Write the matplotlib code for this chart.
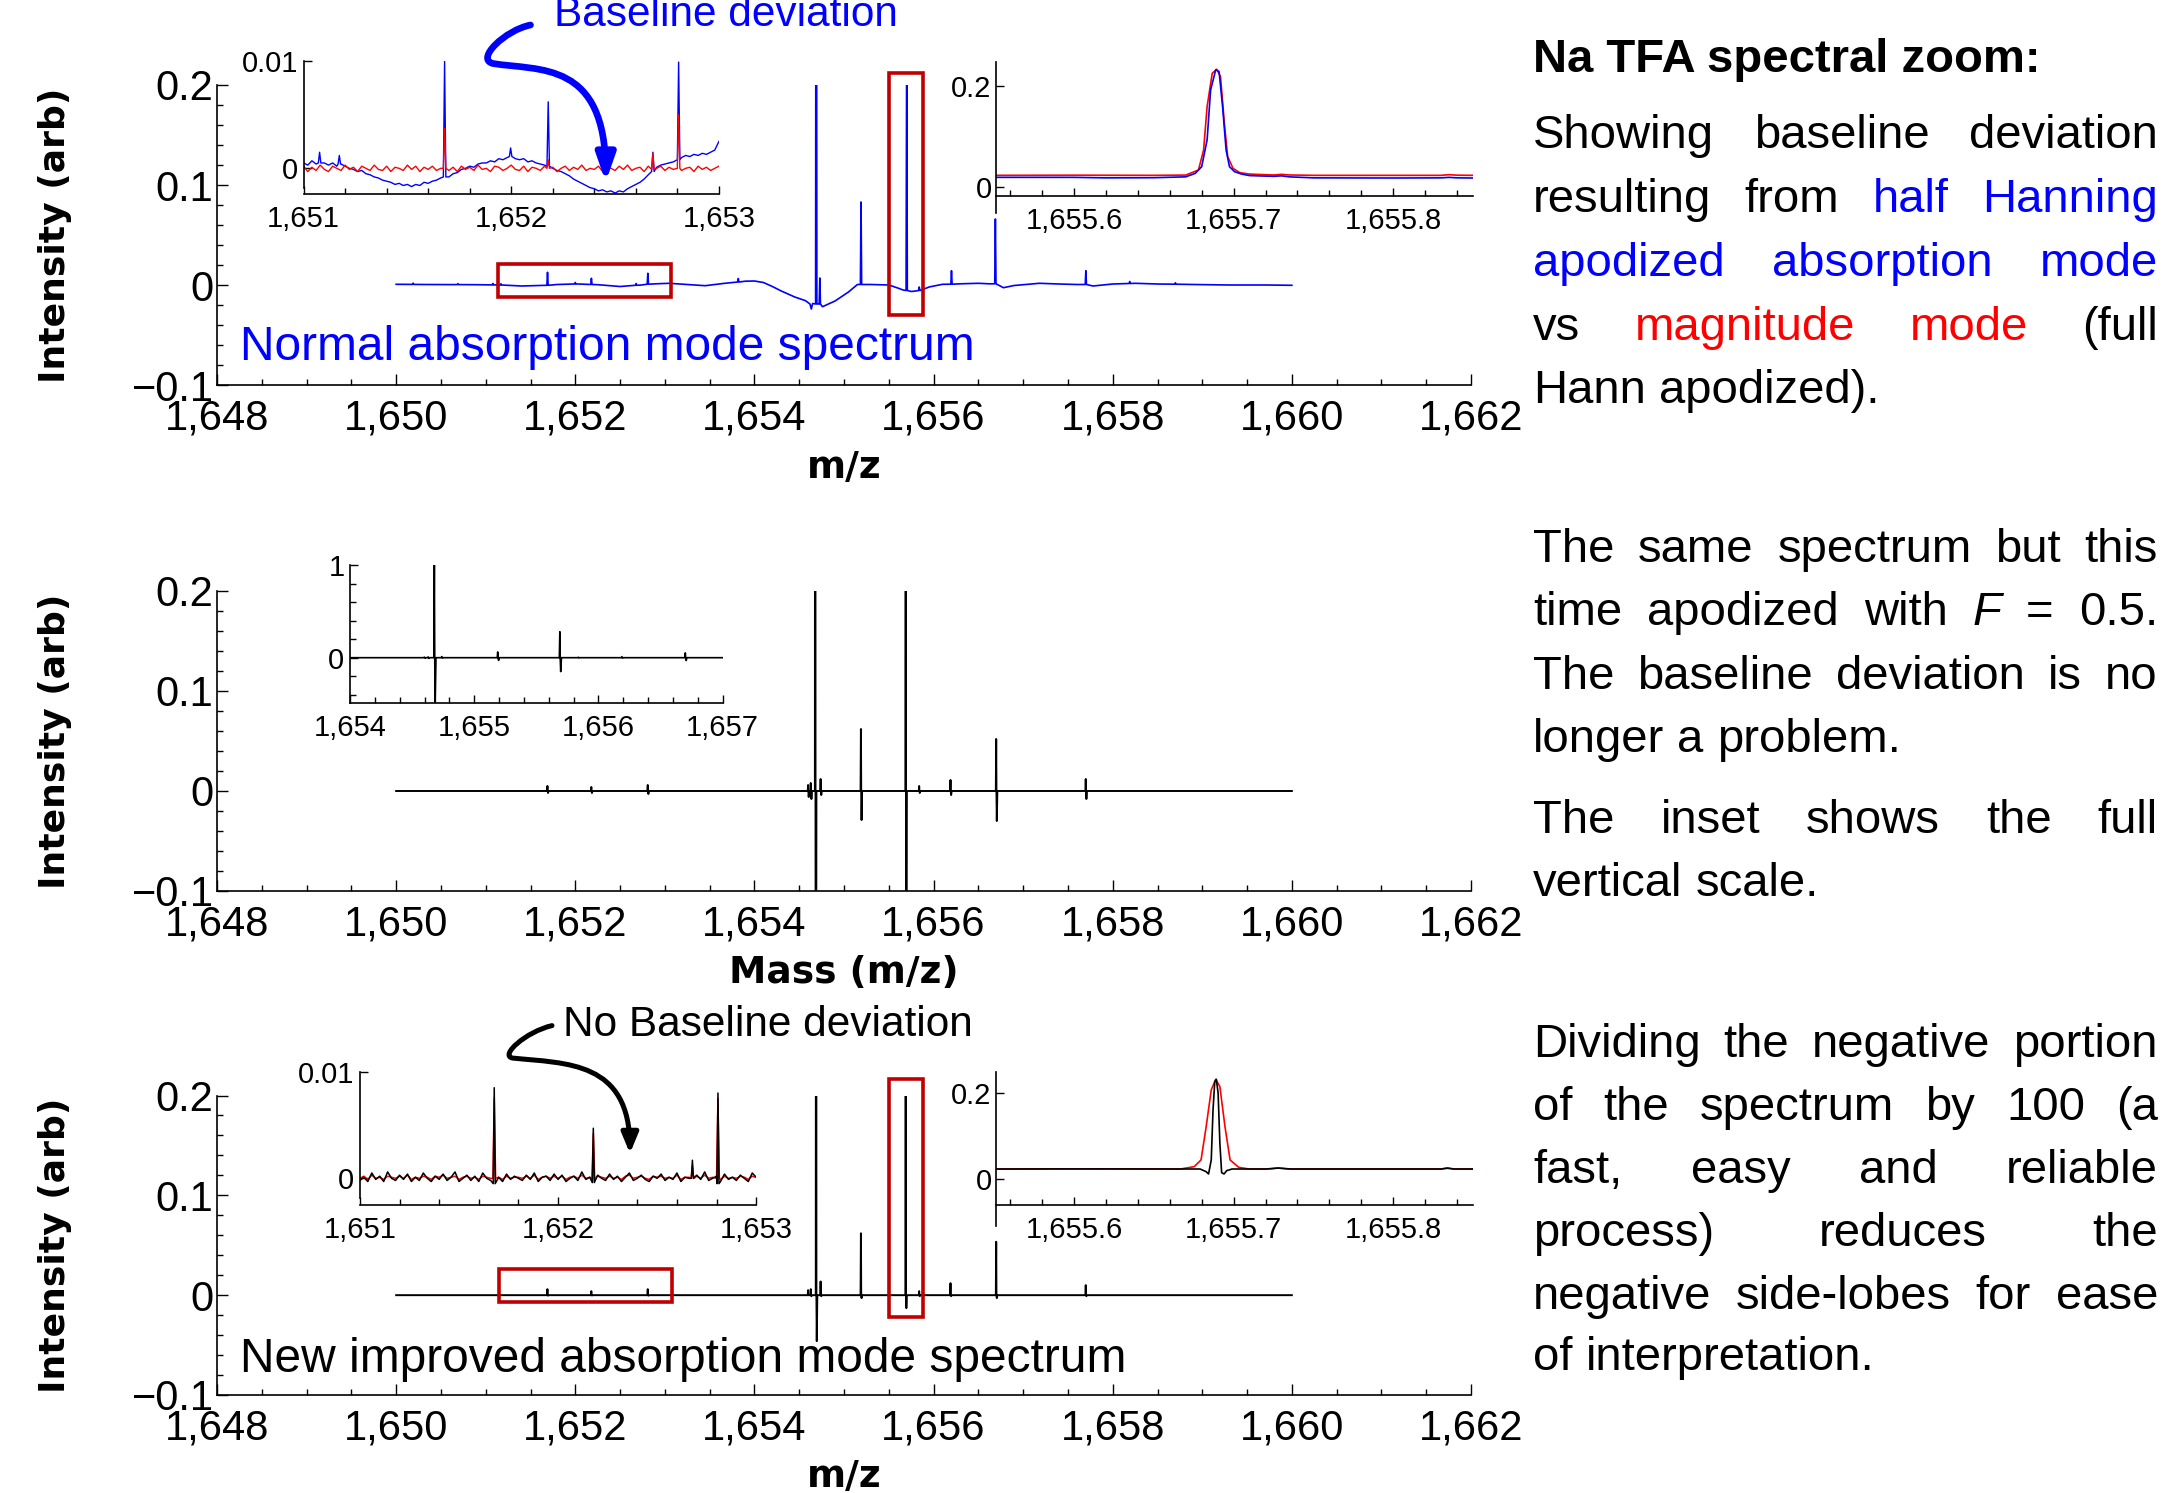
import numpy as np
import matplotlib
matplotlib.use('Agg')
import matplotlib.pyplot as plt
from matplotlib.path import Path
from matplotlib.patches import FancyArrowPatch, Rectangle
from matplotlib.ticker import MultipleLocator, FixedLocator, FuncFormatter

W, H = 2172, 1493
plt.rcParams['font.family'] = 'DejaVu Sans'
TEXT_FONT = 'Liberation Sans'
BLUE, RED, BOXRED = '#0000FF', '#FF0000', '#C00000'

# ── Data: top panel, half Hanning absorption mode (blue) ──────────────────────
TOP_BASE_X = [1650.0, 1650.3, 1650.6, 1650.9, 1651.15, 1651.4, 1651.6, 1651.8,
              1652.04, 1652.25, 1652.5, 1652.74, 1652.9, 1653.05, 1653.25, 1653.45,
              1653.65, 1653.9, 1654.0, 1654.1, 1654.2, 1654.3, 1654.45, 1654.57,
              1654.62, 1654.635, 1654.65, 1654.71, 1654.76, 1654.9, 1655.05, 1655.15,
              1655.3, 1655.5, 1655.6, 1655.66, 1655.75, 1655.8, 1655.88, 1655.95,
              1656.1, 1656.3, 1656.5, 1656.62, 1656.78, 1656.9, 1657.18, 1657.4,
              1657.6, 1657.78, 1658.0, 1658.25, 1658.5, 1658.9, 1659.3, 1659.7, 1660.0]
TOP_BASE_Y = [0.0007, 0.0005, 0.0004, 0.0003, 0.0, -0.0010, -0.0005, 0.0005,
              0.0010, 0.0003, -0.0015, 0.0, 0.0012, 0.0017, 0.0005, -0.0007,
              0.0015, 0.0038, 0.0040, 0.0025, -0.0015, -0.0060, -0.0120, -0.0157,
              -0.0190, -0.0240, -0.0185, -0.0190, -0.0217, -0.0160, -0.0070, 0.0005,
              0.0005, 0.0, -0.0030, -0.0050, -0.0065, -0.0060, -0.0045, -0.0020,
              0.0007, 0.0012, 0.0017, 0.0012, -0.0027, -0.0005, 0.0017, 0.0010,
              0.0005, -0.0010, 0.0010, 0.0017, 0.0010, 0.0005, 0.0, 0.0, -0.0003]
# (centre, base, top)
TOP_PEAKS = [(1650.19, 0.0006, 0.0018), (1650.69, 0.0004, 0.0014), (1651.08, 0.0001, 0.0015),
             (1651.17, 0.0, 0.0012), (1651.69, -0.0003, 0.0127), (1652.00, 0.0010, 0.0025),
             (1652.18, 0.0005, 0.0067), (1652.68, -0.0003, 0.0015), (1652.81, 0.0008, 0.0117),
             (1653.82, 0.0030, 0.0065), (1654.69, -0.0190, 0.8), (1654.73, -0.0190, 0.0070),
             (1655.19, 0.0005, 0.083), (1655.70, -0.0055, 0.25), (1655.84, -0.0055, -0.0020),
             (1656.20, 0.0008, 0.0143), (1656.69, 0.0012, 0.066), (1657.70, 0.0005, 0.0143),
             (1658.19, 0.0015, 0.0035), (1658.70, 0.0008, 0.0022)]

# top inset 1 (1651-1653), values in units of 1e-4
T1_BLUE = [5, 3, 7, 4, 6, 5, 3, 5, 2, 4, 2, 0, -1, -3, -2, -5, -6, -8, -9, -11,
           -12, -13, -15, -14, -16, -15, -17, -15, -16, -13, -14, -12, -11, -9, -8, -8, -5, -4, -1, 0,
           2, 1, 4, 5, 5, 7, 6, 9, 8, 10, 11, 9, 8, 9, 6, 7, 5, 4, 3, 2,
           0, -2, -3, -5, -7, -10, -12, -14, -16, -18, -19, -21, -20, -22, -21, -23, -21, -22, -19, -17,
           -15, -13, -10, -6, -3, 1, 3, 4, 5, 6, 8, 10, 12, 11, 13, 12, 14, 13, 15, 17, 25]
T1_RED = [2, -3, 1, -2, 3, -1, -3, 2, 0, -2, 3, -1, 1, -3, 2, 0, -2, 3, -1, -2,
          2, -3, 1, 0, -2, 3, -1, 2, -3, 1, -1, 2, -2, 0, 3, -2, 1, -3, 2, -1,
          1, -2, 3, -1, 0, -3, 2, 1, -2, 0, 3, -1, -2, 2, -3, 1, 0, -2, 2, -1,
          1, -3, 0, 2, -2, 1, -1, 3, -2, 0, -1, 2, -3, 1, 0, -2, 2, -1, 3, -2,
          0, 1, -3, 2, -1, 0, 2, -2, 1, -1, 3, -2, 0, 1, -3, 2, -1, 1, -2, 0, 2]
T1_BLUE_PEAKS = [(1651.077, 0.0005, 0.0015), (1651.172, 0.0004, 0.0012), (1651.679, -0.0008, 0.0100),
                 (1651.997, 0.0011, 0.0019), (1652.178, 0.0002, 0.0062), (1652.682, -0.0003, 0.0015),
                 (1652.806, 0.0008, 0.0099)]
T1_RED_PEAKS = [(1651.679, 0.0, 0.0037), (1652.178, 0.0, 0.0008),
                (1652.682, -0.0001, 0.0014), (1652.806, 0.0, 0.0050)]

# top inset 2 (1655.55-1655.85)
T2_BLUE_X = [1655.551, 1655.60, 1655.62, 1655.65, 1655.67, 1655.676, 1655.680, 1655.6834,
             1655.6856, 1655.6888, 1655.6909, 1655.6931, 1655.6953, 1655.6974, 1655.7006,
             1655.705, 1655.71, 1655.725, 1655.73, 1655.735, 1655.75, 1655.80, 1655.83,
             1655.835, 1655.84, 1655.85]
T2_BLUE_Y = [0.0185, 0.0185, 0.0175, 0.0178, 0.0195, 0.0265, 0.0397, 0.0927,
             0.192, 0.232, 0.2285, 0.159, 0.0728, 0.0397, 0.0298,
             0.025, 0.022, 0.0205, 0.0215, 0.0195, 0.0175, 0.0172, 0.0175,
             0.0185, 0.0175, 0.0172]
T2_RED_X = [1655.551, 1655.60, 1655.65, 1655.67, 1655.678, 1655.6812, 1655.6834, 1655.6866,
            1655.6894, 1655.6918, 1655.6942, 1655.6963, 1655.6996, 1655.7039, 1655.71,
            1655.725, 1655.73, 1655.735, 1655.75, 1655.83, 1655.835, 1655.84, 1655.85]
T2_RED_Y = [0.0225, 0.0228, 0.0225, 0.023, 0.0331, 0.0728, 0.159, 0.225,
            0.233, 0.2185, 0.126, 0.0596, 0.0364, 0.0278, 0.025,
            0.0232, 0.0245, 0.0232, 0.0225, 0.0225, 0.0238, 0.0228, 0.0225]

# ── Data: middle panel, F = 0.5 (centre, up, down) ────────────────────────────
MID_PEAKS = [(1651.69, 0.005, -0.002), (1652.18, 0.004, -0.002), (1652.81, 0.006, -0.003),
             (1654.60, 0.006, -0.006), (1654.63, 0.008, -0.008), (1654.68, 1.0, -0.48),
             (1654.74, 0.012, -0.004), (1655.19, 0.062, -0.029), (1655.69, 0.28, -0.15),
             (1655.84, 0.005, -0.002), (1656.19, 0.011, -0.004), (1656.70, 0.052, -0.030),
             (1657.70, 0.012, -0.008)]

# ── Data: bottom panel, negative portion / 100 ────────────────────────────────
BOT_PEAKS = [(1651.69, 0.006, -0.0005), (1652.18, 0.004, -0.0003), (1652.81, 0.006, -0.0005),
             (1654.60, 0.005, 0.0), (1654.63, 0.006, -0.001), (1654.69, 1.0, -0.046),
             (1654.74, 0.0137, -0.001), (1655.19, 0.062, -0.003), (1655.69, 0.28, -0.013),
             (1655.84, 0.004, -0.001), (1656.19, 0.012, -0.001), (1656.70, 0.0535, -0.003),
             (1657.70, 0.010, -0.001)]

# bottom inset 1 (1651-1653), units of 1e-4
B1_BLACK = [-2, 1, -3, 5, -1, 2, -3, 6, 0, -2, 3, -1, 4, -3, 1, -2, 5, 0, -3, 2,
            -1, 4, -2, 1, 6, -3, 0, 3, -2, 2, -3, 5, 0, -2, 3, 1, -3, 4, -1, 2,
            0, -2, 3, -1, 5, -3, 1, 2, -2, 4, -1, 3, -3, 0, 2, -2, 6, -1, 1, -3,
            3, 0, -2, 4, -1, 2, -3, 1, 5, -2, 0, 3, -1, -3, 2, 0, 4, -2, 1, -1,
            5, -3, 1, 0, -2, 3, -1, 6, -2, 0, 2, -3, 4, -1, 1, -2, 3, 0, -3, 5, 1]
B1_RED = [0, 2, -1, 3, 0, 1, -1, 2, 1, 0, 2, 0, 3, -1, 1, 0, 2, 1, -1, 2,
          1, 3, 0, 1, 2, -1, 1, 2, 0, 1, -1, 2, 1, 0, 3, 1, -1, 2, 0, 1,
          1, 0, 2, 0, 3, -1, 1, 2, 0, 2, 0, 2, -1, 1, 2, 0, 3, 0, 1, -1,
          2, 1, 0, 2, 0, 1, -1, 2, 3, 0, 1, 2, 0, -1, 2, 1, 2, 0, 1, 0,
          3, -1, 1, 1, 0, 2, 0, 3, 0, 1, 1, -1, 2, 0, 1, 0, 2, 1, -1, 2, 1]
B1_BLACK_PEAKS = [(1651.678, -0.0005, 0.0085), (1652.178, -0.0004, 0.0047),
                  (1652.678, 0.0, 0.0017), (1652.807, -0.0005, 0.0080)]
B1_RED_PEAKS = [(1651.678, 0.0, 0.0075), (1652.178, 0.0, 0.0042),
                (1652.678, 0.0, 0.0012), (1652.807, 0.0, 0.0075)]

# bottom inset 2 (1655.55-1655.85)
B2_BLACK_X = [1655.551, 1655.60, 1655.679, 1655.6828, 1655.6843, 1655.686, 1655.6871, 1655.6882,
              1655.6892, 1655.6903, 1655.6914, 1655.6925, 1655.694, 1655.6957, 1655.699, 1655.72,
              1655.728, 1655.736, 1655.83, 1655.834, 1655.838, 1655.85]
B2_BLACK_Y = [0.0233, 0.0235, 0.0233, 0.0171, 0.0117, 0.0444, 0.161, 0.227,
              0.2326, 0.200, 0.0833, 0.0148, 0.0117, 0.0195, 0.0233, 0.0233,
              0.0255, 0.0233, 0.0233, 0.025, 0.0233, 0.0233]
B2_RED_X = [1655.551, 1655.60, 1655.6667, 1655.6753, 1655.6796, 1655.6828, 1655.686, 1655.6888,
            1655.6914, 1655.6946, 1655.6978, 1655.7032, 1655.7097, 1655.722, 1655.728, 1655.734,
            1655.83, 1655.834, 1655.838, 1655.85]
B2_RED_Y = [0.0233, 0.0236, 0.0233, 0.0288, 0.0444, 0.122, 0.208, 0.2326,
            0.2155, 0.122, 0.0444, 0.0272, 0.0233, 0.0233, 0.0257, 0.0233,
            0.0233, 0.026, 0.0233, 0.0233]

# ── Annotation positions (main-axes data coords) ──────────────────────────────
BOX_TOP = [(1651.14, -0.0123, 1653.07, 0.0210), (1655.50, -0.0300, 1655.88, 0.2117)]
BOX_BOT = [(1651.15, -0.0070, 1653.08, 0.0260), (1655.50, -0.0215, 1655.88, 0.2170)]
ARROW_TOP = [(1651.50, 0.260), (1651.22, 0.255), (1650.88, 0.226), (1651.08, 0.2215),
             (1651.60, 0.214), (1652.34, 0.225), (1652.34, 0.103)]
ARROW_BOT = [(1651.74, 0.270), (1651.45, 0.264), (1651.15, 0.240), (1651.30, 0.2375),
             (1651.90, 0.232), (1652.61, 0.235), (1652.61, 0.142)]

TEXT_LINES = [
    ("Showing baseline deviation", 148, True),
    ("resulting from b|half b|Hanning", 212, True),
    ("b|apodized b|absorption b|mode", 276, True),
    ("vs r|magnitude r|mode (full", 340, True),
    ("Hann apodized).", 403, False),
    ("The same spectrum but this", 562, True),
    ("time apodized with i|F = 0.5.", 625, True),
    ("The baseline deviation is no", 689, True),
    ("longer a problem.", 752, False),
    ("The inset shows the full", 833, True),
    ("vertical scale.", 896, False),
    ("Dividing the negative portion", 1057, True),
    ("of the spectrum by 100 (a", 1120, True),
    ("fast, easy and reliable", 1183, True),
    ("process) reduces the", 1246, True),
    ("negative side-lobes for ease", 1309, True),
    ("of interpretation.", 1370, False),
]


def spikes(base_x, base_y, peaks, hw):
    pts = [p for p in zip(base_x, base_y)
           if min(abs(p[0] - c) for c, _, _ in peaks) > hw]
    for c, b, t in peaks:
        pts += [(c - hw, b), (c, t), (c + hw, b)]
    pts.sort()
    x, y = zip(*pts)
    return np.array(x), np.array(y)


def dispersive(peaks, x0=1650.0, x1=1660.0):
    pts = [(x0, 0.0), (x1, 0.0)]
    for c, up, dn in peaks:
        pts += [(c - 0.005, 0.0), (c - 0.001, up), (c + 0.002, 0.0),
                (c + 0.006, dn), (c + 0.012, 0.0)]
    pts.sort()
    x, y = zip(*pts)
    return np.array(x), np.array(y)


def grid(vals, x0, x1):
    return np.linspace(x0, x1, len(vals)), np.array(vals) * 1e-4


def num_fmt(v, pos):
    if abs(v) < 1e-12:
        return '0'
    return f'{v:g}'.replace('-', '\u2212')


def mass_fmt(dec):
    return FuncFormatter(lambda v, p: f'{v:,.{dec}f}')


fig = plt.figure(figsize=(W / 100, H / 100), dpi=100)


def axes_px(x0, y0, x1, y1):
    return fig.add_axes([x0 / W, 1 - y1 / H, (x1 - x0) / W, (y1 - y0) / H])


def style(ax, fs, xpad, ypad, maj, mnr):
    for s in ('top', 'right'):
        ax.spines[s].set_visible(False)
    for s in ('left', 'bottom'):
        ax.spines[s].set_linewidth(1.2)
    ax.tick_params(which='both', direction='in', labelsize=fs, width=1.0,
                   labelfontfamily=TEXT_FONT)
    ax.tick_params(which='major', length=maj)
    ax.tick_params(which='minor', length=mnr)
    ax.tick_params(axis='x', pad=xpad)
    ax.tick_params(axis='y', pad=ypad)
    ax.patch.set_alpha(0)


# ── Main panels ───────────────────────────────────────────────────────────────
ax_top = axes_px(217, 85, 1471, 385)
ax_mid = axes_px(217, 591, 1471, 891)
ax_bot = axes_px(217, 1095.5, 1471, 1395)

x, y = spikes(TOP_BASE_X, TOP_BASE_Y, TOP_PEAKS, 0.007)
ax_top.plot(x, y, color=BLUE, lw=1.2)
x, y = dispersive(MID_PEAKS)
ax_mid.plot(x, y, color='black', lw=1.4)
x, y = dispersive(BOT_PEAKS)
ax_bot.plot(x, y, color='black', lw=1.4)

for ax, xl in ((ax_top, 'm/z'), (ax_mid, 'Mass (m/z)'), (ax_bot, 'm/z')):
    ax.set_xlim(1648, 1662)
    ax.set_ylim(-0.1, 0.2)
    style(ax, 30, 9.5, 2.5, 8, 4)
    ax.xaxis.set_major_locator(MultipleLocator(2))
    ax.xaxis.set_minor_locator(MultipleLocator(0.5))
    ax.xaxis.set_major_formatter(mass_fmt(0))
    ax.yaxis.set_major_locator(FixedLocator([-0.1, 0, 0.1, 0.2]))
    ax.yaxis.set_minor_locator(MultipleLocator(0.02))
    ax.yaxis.set_major_formatter(FuncFormatter(num_fmt))
    ax.set_ylabel('Intensity (arb)', fontsize=26, fontweight='bold', va='center')
    ax.yaxis.set_label_coords(-(217 - 55) / 1254, 0.5)
    ax.set_xlabel(xl, fontsize=27, fontweight='bold', va='center')
    ax.xaxis.set_label_coords(0.5, -0.275)

for ax, boxes in ((ax_top, BOX_TOP), (ax_bot, BOX_BOT)):
    for x0, y0, x1, y1 in boxes:
        ax.add_patch(Rectangle((x0, y0), x1 - x0, y1 - y0, fill=False,
                               edgecolor=BOXRED, lw=2.6, clip_on=False, zorder=3))

ax_top.text(1648.257, -0.075, 'Normal absorption mode spectrum', color=BLUE,
            fontsize=34.5, family=TEXT_FONT, va='baseline')
ax_bot.text(1648.257, -0.077, 'New improved absorption mode spectrum', color='black',
            fontsize=34.5, family=TEXT_FONT, va='baseline')
ax_top.text(1651.758, 0.259, 'Baseline deviation', color=BLUE, fontsize=30.5,
            family=TEXT_FONT, va='baseline', clip_on=False)
ax_bot.text(1651.86, 0.260, 'No Baseline deviation', color='black', fontsize=30.5,
            family=TEXT_FONT, va='baseline', clip_on=False)

# ── Insets ────────────────────────────────────────────────────────────────────
def inset_narrow(box, ylim, spine_bottom, yticks):
    ax = axes_px(*box)
    ax.set_xlim(1651, 1653)
    ax.set_ylim(*ylim)
    style(ax, 21, 8, 4, 6, 4)
    ax.xaxis.set_major_locator(FixedLocator([1651, 1652, 1653]))
    ax.xaxis.set_minor_locator(MultipleLocator(0.2))
    ax.xaxis.set_major_formatter(mass_fmt(0))
    ax.yaxis.set_major_locator(FixedLocator(yticks))
    ax.yaxis.set_major_formatter(FuncFormatter(num_fmt))
    ax.spines['left'].set_bounds(spine_bottom, ylim[1])
    return ax


def inset_peak(box, ylim, spine_bottom):
    ax = axes_px(*box)
    ax.set_xlim(1655.551, 1655.85)
    ax.set_ylim(*ylim)
    style(ax, 21, 8, 3, 6, 4)
    ax.xaxis.set_major_locator(FixedLocator([1655.6, 1655.7, 1655.8]))
    ax.xaxis.set_minor_locator(MultipleLocator(0.02))
    ax.xaxis.set_major_formatter(mass_fmt(1))
    ax.yaxis.set_major_locator(FixedLocator([0, 0.2]))
    ax.yaxis.set_major_formatter(FuncFormatter(num_fmt))
    ax.spines['left'].set_bounds(spine_bottom, ylim[1])
    return ax


t1 = inset_narrow((303.6, 61, 718.9, 194.3), (-0.00242, 0.01), -0.00186, [0, 0.01])
xb, yb = grid(T1_BLUE, 1651, 1653)
x, y = spikes(xb, yb, T1_BLUE_PEAKS, 0.006)
t1.plot(x, y, color=BLUE, lw=1.0)
xr, yr = grid(T1_RED, 1651, 1653)
x, y = spikes(xr, yr, T1_RED_PEAKS, 0.006)
t1.plot(x, y, color=RED, lw=1.0)

t2 = inset_peak((995.8, 61.7, 1473, 195.7), (-0.0179, 0.248), -0.053)
t2.plot(T2_RED_X, T2_RED_Y, color=RED, lw=1.2)
t2.plot(T2_BLUE_X, T2_BLUE_Y, color=BLUE, lw=1.2)

m1 = axes_px(350, 565, 722.7, 703.3)
m1.set_xlim(1654, 1657)
m1.set_ylim(-0.492, 1.0)
style(m1, 21, 8, 4, 6, 4)
m1.xaxis.set_major_locator(MultipleLocator(1))
m1.xaxis.set_minor_locator(MultipleLocator(0.2))
m1.xaxis.set_major_formatter(mass_fmt(0))
m1.yaxis.set_major_locator(FixedLocator([0, 1]))
m1.yaxis.set_minor_locator(MultipleLocator(0.2))
m1.yaxis.set_major_formatter(FuncFormatter(num_fmt))
x, y = dispersive(MID_PEAKS, 1654.0, 1657.0)
m1.plot(x, y, color='black', lw=1.2)

b1 = inset_narrow((359.9, 1071.7, 756.2, 1205), (-0.0025, 0.01), -0.00188, [0, 0.01])
xr, yr = grid(B1_RED, 1651, 1653)
x, y = spikes(xr, yr, B1_RED_PEAKS, 0.007)
b1.plot(x, y, color=RED, lw=1.1)
xb, yb = grid(B1_BLACK, 1651, 1653)
x, y = spikes(xb, yb, B1_BLACK_PEAKS, 0.005)
b1.plot(x, y, color='black', lw=1.1)

b2 = inset_peak((995.8, 1071.7, 1473, 1205), (-0.0607, 0.2504), -0.11)
b2.plot(B2_RED_X, B2_RED_Y, color=RED, lw=1.2)
b2.plot(B2_BLACK_X, B2_BLACK_Y, color='black', lw=1.2)

# ── Curvy arrows ──────────────────────────────────────────────────────────────
def curvy_arrow(ax, verts, lw, color, style_str):
    codes = [Path.MOVETO] + [Path.CURVE4] * (len(verts) - 1)
    arr = FancyArrowPatch(path=Path(verts, codes), arrowstyle=style_str,
                          mutation_scale=20, lw=lw, color=color,
                          transform=ax.transData, zorder=5)
    fig.add_artist(arr)


curvy_arrow(ax_top, ARROW_TOP, 4.8, BLUE, '-|>,head_length=0.8,head_width=0.28')
curvy_arrow(ax_bot, ARROW_BOT, 3.6, 'black', '-|>,head_length=0.6,head_width=0.25')

# ── Right-hand text column (justified) ────────────────────────────────────────
TX0, TX1 = 1533, 2158
FS = 34
renderer = fig.canvas.get_renderer()
fig.text(TX0 / W, 1 - 72 / H, 'Na TFA spectral zoom:', fontsize=FS, fontweight='bold',
         family=TEXT_FONT, va='baseline')

colours = {'b': BLUE, 'r': RED, 'i': 'black', '': 'black'}
space_px = 0.278 * FS * 100 / 72
for line, ybase, justify in TEXT_LINES:
    objs = []
    for tok in line.split():
        tag, word = tok.split('|', 1) if '|' in tok else ('', tok)
        t = fig.text(0, 1 - ybase / H, word, fontsize=FS, family=TEXT_FONT,
                     color=colours[tag], style='italic' if tag == 'i' else 'normal',
                     va='baseline', ha='left')
        objs.append(t)
    widths = [o.get_window_extent(renderer).width for o in objs]
    if justify and len(objs) > 1:
        gap = (TX1 - TX0 - sum(widths)) / (len(objs) - 1)
    else:
        gap = space_px
    xpos = TX0
    for o, w in zip(objs, widths):
        o.set_x(xpos / W)
        xpos += w + gap

fig.savefig('out.png', dpi=100)
